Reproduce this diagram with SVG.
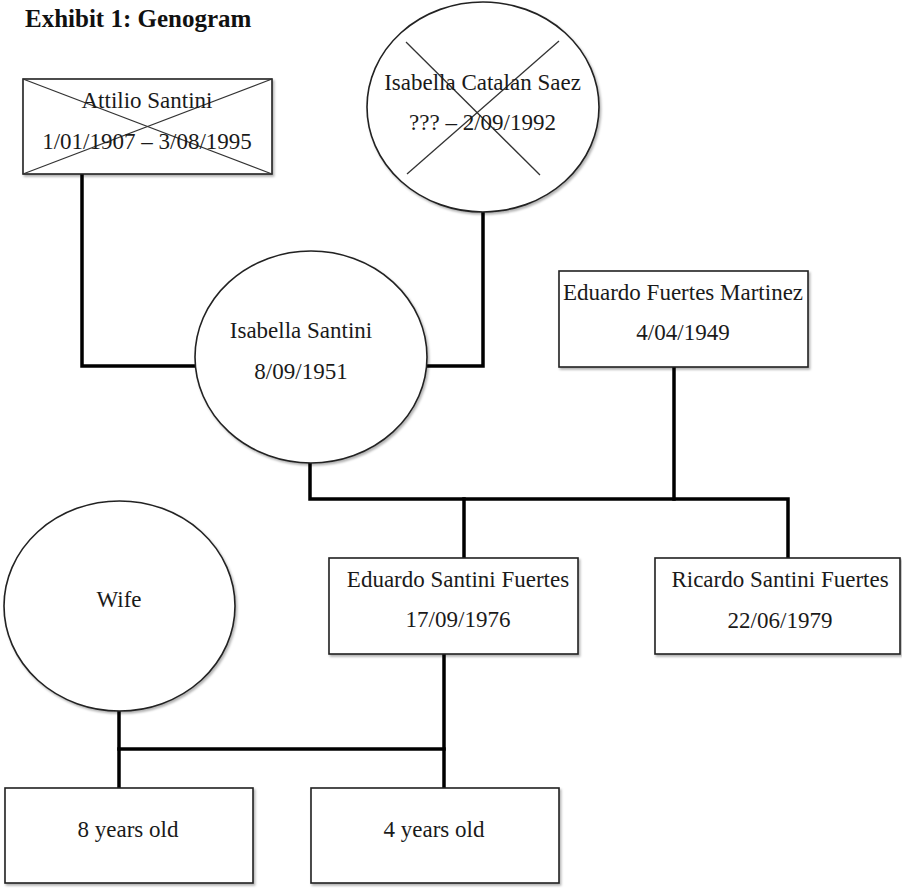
<svg xmlns="http://www.w3.org/2000/svg" width="902" height="889" viewBox="0 0 902 889">
<defs>
<filter id="sh" x="-5%" y="-5%" width="115%" height="115%">
<feDropShadow dx="1.5" dy="2" stdDeviation="1.2" flood-color="#000" flood-opacity="0.3"/>
</filter>
</defs>
<style>
.shape{fill:#fff;stroke:#222;stroke-width:1.6;filter:url(#sh)}
.x{stroke:#333;stroke-width:1.3;fill:none}
.conn{stroke:#000;stroke-width:3.5;fill:none;stroke-linejoin:miter;stroke-linecap:square}
text{font-family:"Liberation Serif","Times New Roman",serif;font-size:23px;fill:#1a1a1a;text-anchor:middle}
.title{font-weight:bold;font-size:25px;text-anchor:start;fill:#111}
</style>
<rect width="902" height="889" fill="#fff"/>
<text class="title" x="25" y="27">Exhibit 1: Genogram</text>

<g id="connectors">
<polyline class="conn" points="82,174 82,366 197,366"/>
<polyline class="conn" points="483,212 483,366 426,366"/>
<polyline class="conn" points="310,462 310,499 788,499 788,558"/>
<line class="conn" x1="674" y1="367" x2="674" y2="499"/>
<line class="conn" x1="464" y1="499" x2="464" y2="558"/>
<polyline class="conn" points="119,711 119,788"/>
<polyline class="conn" points="444,654 444,788"/>
<line class="conn" x1="119" y1="749" x2="444" y2="749"/>
</g>

<g id="attilio">
<rect class="shape" x="23" y="79" width="249" height="95"/>
<line class="x" x1="23" y1="79" x2="272" y2="174"/>
<line class="x" x1="272" y1="79" x2="23" y2="174"/>
<text x="147" y="108">Attilio Santini</text>
<text x="147" y="149">1/01/1907 – 3/08/1995</text>
</g>

<g id="isabella-catalan">
<ellipse class="shape" cx="483" cy="107" rx="116" ry="105"/>
<line class="x" x1="406" y1="42" x2="540" y2="175"/>
<line class="x" x1="559" y1="41" x2="407" y2="174"/>
<text x="482.5" y="90">Isabella Catalan Saez</text>
<text x="482.5" y="130">??? – 2/09/1992</text>
</g>

<g id="isabella-santini">
<ellipse class="shape" cx="311" cy="357" rx="116" ry="106"/>
<text x="301" y="338">Isabella Santini</text>
<text x="301" y="379">8/09/1951</text>
</g>

<g id="eduardo-fm">
<rect class="shape" x="559" y="271" width="249" height="96"/>
<text x="683" y="300">Eduardo Fuertes Martinez</text>
<text x="683" y="340">4/04/1949</text>
</g>

<g id="wife">
<ellipse class="shape" cx="119.5" cy="606" rx="115.5" ry="105"/>
<text x="119" y="607">Wife</text>
</g>

<g id="eduardo-sf">
<rect class="shape" x="329" y="558" width="249" height="96"/>
<text x="458" y="587">Eduardo Santini Fuertes</text>
<text x="458" y="627">17/09/1976</text>
</g>

<g id="ricardo">
<rect class="shape" x="655" y="558" width="245" height="96"/>
<text x="780" y="587">Ricardo Santini Fuertes</text>
<text x="780" y="628">22/06/1979</text>
</g>

<g id="child8">
<rect class="shape" x="5" y="788" width="248" height="95"/>
<text x="128" y="837">8 years old</text>
</g>

<g id="child4">
<rect class="shape" x="311" y="788" width="248" height="95"/>
<text x="434" y="837">4 years old</text>
</g>
</svg>
